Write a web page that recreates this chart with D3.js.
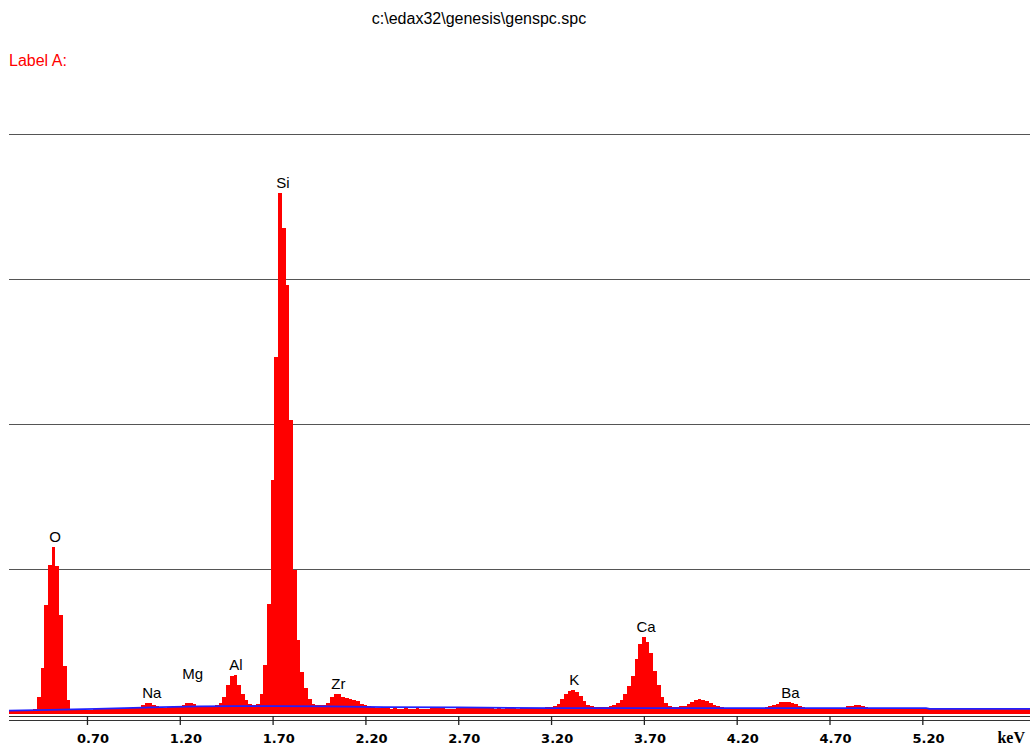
<!DOCTYPE html>
<html lang="en">
<head>
    <meta charset="UTF-8">
    <title>genspc.spc</title>
    <style>
        html, body { margin: 0; padding: 0; background: #fff; }
        svg text { font-family: "Liberation Sans", Arial, sans-serif; }
    </style>
</head>
<body>
    <div id="chart"></div>

    <script src="https://d3js.org/d3.v7.min.js"></script>
    <script>
    // spectrum channels: 0.28 keV .. 5.78 keV, 0.02 keV wide
    const channelStart = 0.28;
    const channelWidth = 0.02;
    const counts = [
        28, 28, 29, 28, 28, 30, 30, 34, 117, 317, 752, 1028, 1152, 1021, 683, 331, 97, 30, 28, 28,   // 0.28 - 0.66
        29, 28, 30, 34, 34, 35, 34, 36, 35, 36, 38, 39, 38, 40, 42, 50, 65, 76, 74, 62,           // 0.68 - 1.06
        52, 46, 44, 48, 50, 52, 54, 60, 74, 78, 72, 58, 55, 56, 57, 58, 62, 75, 120, 200,          // 1.08 - 1.46
        262, 268, 200, 140, 95, 72, 65, 68, 140, 335, 760, 1614, 2462, 3590, 3350, 2960, 2029, 994, 511, 290, // 1.48 - 1.86
        179, 103, 66, 62, 62, 63, 75, 115, 135, 138, 120, 108, 104, 98, 88, 70, 60, 52, 46, 42,    // 1.88 - 2.26
        40, 38, 38, 37, 38, 36, 37, 38, 36, 37, 38, 36, 37, 36, 38, 42, 44, 40, 37, 36,            // 2.28 - 2.66
        37, 38, 40, 38, 39, 40, 42, 43, 42, 40, 38, 37, 38, 37, 38, 39, 38, 37, 38, 39,            // 2.68 - 3.06
        38, 40, 40, 40, 42, 45, 48, 52, 70, 105, 140, 160, 166, 155, 125, 90, 62, 52, 48, 48,      // 3.08 - 3.46
        47, 48, 52, 60, 78, 100, 140, 195, 265, 380, 480, 528, 500, 420, 300, 200, 120, 75, 56, 50, // 3.48 - 3.86
        48, 52, 58, 70, 85, 97, 103, 100, 92, 78, 62, 52, 45, 42, 40, 39, 40, 38, 39, 40,          // 3.88 - 4.26
        38, 40, 41, 42, 45, 55, 62, 72, 82, 85, 84, 78, 68, 55, 45, 40, 39, 38, 39, 38,            // 4.28 - 4.66
        40, 38, 39, 38, 40, 44, 52, 58, 62, 60, 55, 48, 42, 39, 38, 38, 39, 38, 37, 38,            // 4.68 - 5.06
        38, 37, 38, 39, 38, 38, 37, 36, 34, 34, 33, 34, 34, 33, 34, 34, 33, 34, 34, 33,            // 5.08 - 5.46
        34, 34, 33, 34, 34, 33, 34, 34, 33, 34, 34, 33, 34, 34, 33, 34                             // 5.48 - 5.78
    ];

    // fitted background (blue line)
    const bgKeV    = [0.28, 0.50, 0.75, 0.90, 1.10, 1.30, 1.50, 1.70, 2.00, 2.30, 2.70, 3.20, 3.70, 4.20, 4.70, 5.22, 5.24, 5.78];
    const bgCounts = [23,   28,   35,   41,   48,   52,   55,   55,   52,   48,   45,   41,   41,   41,   41,   41,   35,   35];

    // peak labels
    const peakNames  = ["O", "Na", "Mg", "Al", "Si", "Zr", "K", "Ca", "Ba"];
    const peakKeV    = [0.528, 1.049, 1.270, 1.503, 1.755, 2.054, 3.325, 3.712, 4.489];
    const peakCounts = [1152, 76, 204, 271, 3590, 140, 163, 531, 76];

    const tickValues = [0.70, 1.20, 1.70, 2.20, 2.70, 3.20, 3.70, 4.20, 4.70, 5.20];
    const gridValues = [1000, 2000, 3000, 4000];

    const W = 1030, H = 746;
    const left = 9, right = 1030, zeroY = 714, topY = 134;

    const svg = d3.select("#chart").append("svg")
        .attr("width", W)
        .attr("height", H);

    const x = d3.scaleLinear().domain([0.28, 5.78]).range([left, right]);
    const y = d3.scaleLinear().domain([0, 4000]).range([zeroY, topY]);

    // title + label
    svg.append("text")
        .attr("x", 479).attr("y", 24)
        .attr("text-anchor", "middle")
        .style("font-size", "16px")
        .text("c:\\edax32\\genesis\\genspc.spc");

    svg.append("text")
        .attr("x", 9).attr("y", 66)
        .style("font-size", "16px")
        .style("fill", "#ff0000")
        .text("Label A:");

    // horizontal grid
    svg.append("g")
        .selectAll("line")
        .data(gridValues)
        .join("line")
            .attr("x1", left).attr("x2", right)
            .attr("y1", d => Math.round(y(d)) + 0.5).attr("y2", d => Math.round(y(d)) + 0.5)
            .attr("stroke", "#555")
            .attr("stroke-width", 1.2);

    // spectrum, one step per channel
    const data = counts.map((c, i) => ({ e: channelStart + i * channelWidth, c }));
    const area = d3.area()
        .curve(d3.curveStep)
        .x(d => x(d.e))
        .y0(y(0))
        .y1(d => y(d.c));
    svg.append("path")
        .datum(data)
        .attr("d", area)
        .attr("fill", "#ff0000")
        .attr("shape-rendering", "crispEdges");

    // background line
    const line = d3.line()
        .x((d, i) => x(bgKeV[i]))
        .y(d => y(d));
    svg.append("path")
        .datum(bgCounts)
        .attr("d", line)
        .attr("fill", "none")
        .attr("stroke", "#2020ff")
        .attr("stroke-width", 1.8);

    // peak labels
    svg.append("g")
        .selectAll("text")
        .data(peakNames)
        .join("text")
            .attr("x", (d, i) => x(peakKeV[i]))
            .attr("y", (d, i) => y(peakCounts[i]) - 5)
            .attr("text-anchor", "middle")
            .style("font-size", "15px")
            .style("fill", "#000")
            .text(d => d);

    // double baseline
    svg.append("g")
        .selectAll("line")
        .data([716.5, 720.5])
        .join("line")
            .attr("x1", left).attr("x2", right)
            .attr("y1", d => d).attr("y2", d => d)
            .attr("stroke", "#333")
            .attr("stroke-width", 1);

    // x axis
    const xAxis = d3.axisBottom(x)
        .tickValues(tickValues)
        .tickFormat(d3.format(".2f"))
        .tickSize(9)
        .tickPadding(9);

    const gx = svg.append("g")
        .attr("transform", `translate(0,716)`)
        .call(xAxis);
    gx.select(".domain").remove();
    gx.selectAll(".tick line").attr("stroke", "#222").attr("stroke-width", 1.3);
    gx.selectAll(".tick text")
        .attr("dx", 5.6)
        .style("font-family", "'DejaVu Sans', Verdana, sans-serif")
        .style("font-weight", "bold")
        .style("font-size", "13px")
        .style("fill", "#000");

    svg.append("text")
        .attr("x", 1025).attr("y", 743)
        .attr("text-anchor", "end")
        .style("font-family", "'Liberation Serif', 'Times New Roman', serif")
        .style("font-weight", "bold")
        .style("font-size", "16px")
        .text("keV");
    </script>
</body>
</html>
